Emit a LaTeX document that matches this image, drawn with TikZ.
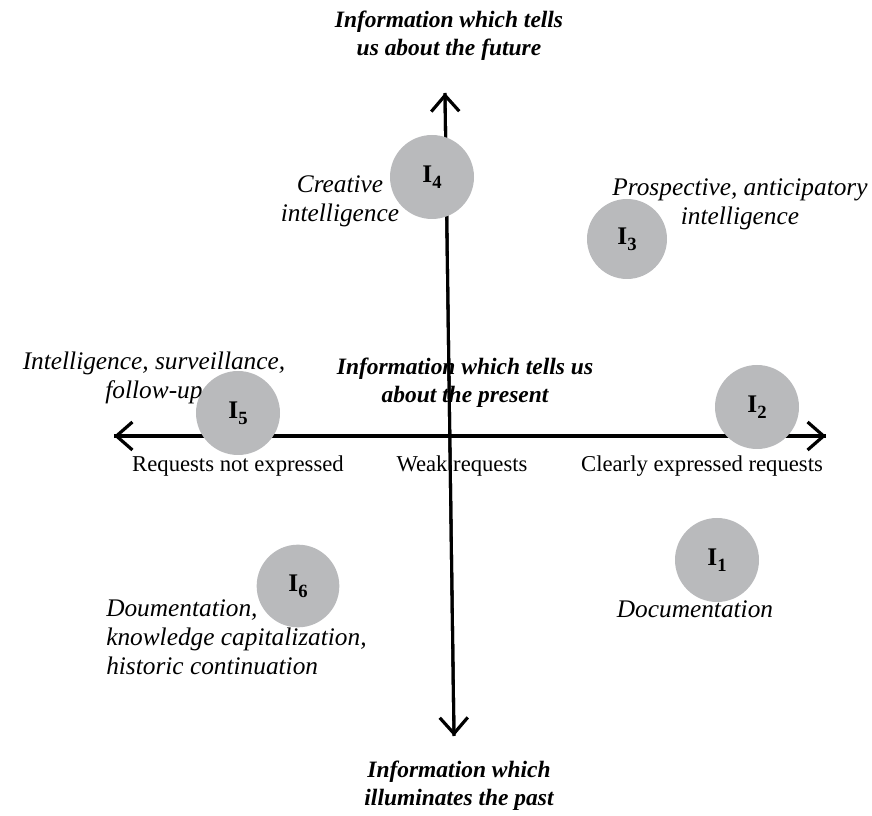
\documentclass[tikz,border=0pt]{standalone}
\usepackage{fontspec}
\setmainfont{Liberation Serif}
\usetikzlibrary{arrows.meta}
\definecolor{discgray}{RGB}{185,186,188}
\tikzset{
  disc/.style={circle,fill=discgray,minimum size=#1,inner sep=0pt,
    font=\fontsize{19}{19}\selectfont\bfseries},
  lbl/.style={font=\fontsize{19}{21.75}\selectfont\itshape,align=center,inner sep=0pt},
  req/.style={font=\fontsize{17}{20}\selectfont,inner sep=0pt},
  head/.style={font=\fontsize{17.6}{21}\selectfont\bfseries\itshape,align=center,inner sep=0pt},
  axis/.style={line width=2.3pt,-{Straight Barb[length=12pt,width=21pt,line width=2.4pt]}}
}
\newcommand{\idx}[1]{I\raisebox{-.5ex}{\fontsize{14}{14}\selectfont #1}}
\begin{document}
\begin{tikzpicture}[x=0.75pt,y=-0.75pt]
  \useasboundingbox (0,0) rectangle (872,816);
  % headings
  \node[head] (future) at (449,36) {Information which tells\\us about the future};
  \node[head] (present) at (465,383) {Information which tells us\\about the present};
  \node[head] (past) at (459,786) {Information which\\illuminates the past};
  % axes
  \coordinate (top) at (445,93);
  \coordinate (bottom) at (454,736);
  \coordinate (left) at (114,436);
  \coordinate (right) at (826,436);
  \draw[axis] (bottom) -- (top);
  \draw[axis] (top) -- (bottom);
  \draw[axis] (right) -- (left);
  \draw[axis] (left) -- (right);
  % requests
  \node[req] (notexp) at (238,466) {Requests not expressed};
  \node[req] (weak) at (462,466) {Weak requests};
  \node[req] (clear) at (702,466) {Clearly expressed requests};
  % discs
  \node[disc=63pt] (I1) at (717,560) {\idx{1}};
  \node[disc=63pt] (I2) at (757,407) {\idx{2}};
  \node[disc=60pt] (I3) at (627,239) {\idx{3}};
  \node[disc=63pt] (I4) at (432,177) {\idx{4}};
  \node[disc=63pt] (I5) at (238,413) {\idx{5}};
  \node[disc=62pt] (I6) at (298,586) {\idx{6}};
  % labels
  \node[lbl] (creative) at (340,201) {Creative\\intelligence};
  \node[lbl] (prosp) at (740,204) {Prospective, anticipatory\\intelligence};
  \node[lbl] (surv) at (154,378) {Intelligence, surveillance,\\follow-up};
  \node[lbl] (doc) at (695,609) {Documentation};
  \node[lbl,align=left,anchor=west] (hist) at (106,637)
    {Doumentation,\\knowledge capitalization,\\historic continuation};
\end{tikzpicture}
\end{document}
